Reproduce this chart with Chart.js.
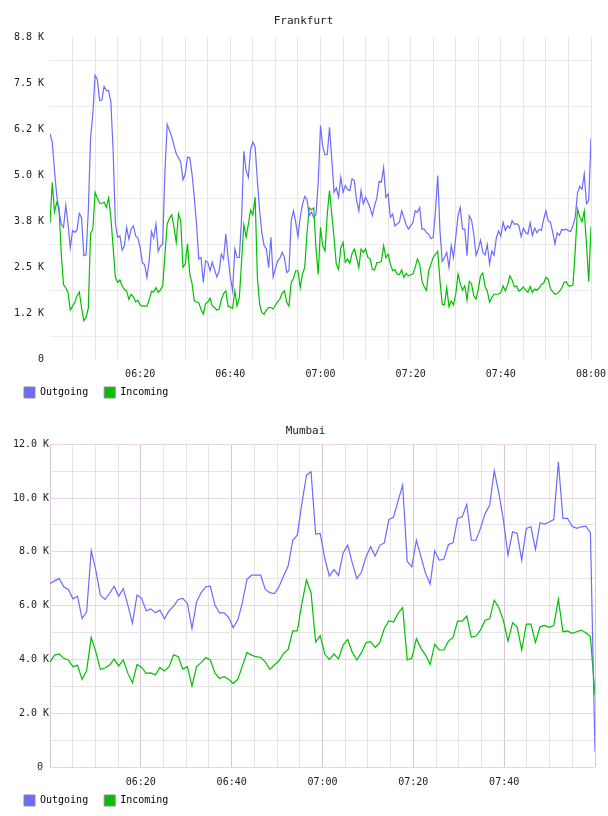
<!DOCTYPE html>
<html>
<head>
<meta charset="utf-8">
<script src="https://cdn.jsdelivr.net/npm/chart.js@4.4.1/dist/chart.umd.min.js"></script>
<style>
  body { margin: 0; background: #fff; }
  canvas { display: block; }
</style>
</head>
<body>
<canvas id="frankfurtChart" width="608" height="408"></canvas>
<canvas id="mumbaiChart" width="608" height="408"></canvas>
<script>
// values in K, evenly spaced from 06:00 to 08:00
const frankfurtOutgoing = [
    6.12, 5.90, 5.12, 4.44, 4.03, 3.67, 3.58, 4.18, 3.67, 3.03,
    3.49, 3.44, 3.51, 3.96, 3.84, 2.81, 2.83, 4.03, 6.01, 6.67,
    7.71, 7.60, 7.03, 7.04, 7.41, 7.30, 7.30, 6.99, 5.67, 3.67,
    3.31, 3.35, 2.96, 3.08, 3.58, 3.26, 3.53, 3.62, 3.35, 3.28,
    3.03, 2.62, 2.56, 2.22, 2.67, 3.47, 3.29, 3.67, 2.93, 3.07,
    3.13, 5.12, 6.38, 6.21, 6.05, 5.81, 5.58, 5.47, 5.35, 4.87,
    5.03, 5.49, 5.47, 5.03, 4.40, 3.67, 2.72, 2.76, 2.08, 2.67,
    2.63, 2.40, 2.63, 2.43, 2.23, 2.38, 2.85, 2.72, 3.40, 2.76,
    2.23, 1.85, 2.99, 2.76, 2.76, 3.85, 5.65, 5.12, 4.94, 5.71,
    5.90, 5.76, 4.85, 4.03, 3.42, 3.08, 2.99, 2.49, 3.31, 2.23,
    2.46, 2.67, 2.74, 2.90, 2.76, 2.35, 2.40, 3.76, 4.03, 3.72,
    3.33, 3.85, 4.20, 4.42, 4.33, 3.90, 3.99, 3.85, 3.92, 4.81,
    6.35, 5.78, 5.55, 5.56, 6.30, 5.44, 4.53, 4.65, 4.40, 4.94,
    4.53, 4.72, 4.61, 4.58, 4.90, 4.85, 4.31, 4.03, 4.58, 4.22,
    4.40, 4.26, 4.12, 3.90, 4.17, 4.38, 4.83, 4.81, 5.20, 4.40,
    4.49, 3.85, 3.94, 3.62, 3.67, 3.72, 4.03, 3.85, 3.65, 3.53,
    3.62, 3.71, 4.03, 3.99, 4.12, 3.53, 3.53, 3.44, 3.39, 3.27,
    3.31, 4.03, 4.99, 3.49, 2.65, 2.76, 2.90, 2.49, 3.08, 2.76,
    3.31, 3.90, 4.12, 3.53, 3.53, 2.81, 3.89, 3.78, 3.40, 2.82,
    2.99, 3.23, 2.90, 2.83, 3.11, 2.58, 2.94, 2.82, 3.29, 3.48,
    3.34, 3.72, 3.50, 3.62, 3.56, 3.76, 3.66, 3.68, 3.63, 3.33,
    3.56, 3.44, 3.40, 3.71, 3.36, 3.56, 3.43, 3.53, 3.50, 3.80,
    4.03, 3.76, 3.72, 3.45, 3.13, 3.43, 3.36, 3.52, 3.51, 3.53,
    3.49, 3.47, 3.62, 3.85, 4.51, 4.69, 4.62, 5.03, 4.22, 4.31,
    6.00
];
const frankfurtIncoming = [
    3.70, 4.80, 4.00, 4.26, 4.12, 2.85, 2.02, 1.93, 1.81, 1.33,
    1.43, 1.54, 1.72, 1.82, 1.40, 1.04, 1.13, 1.38, 3.41, 3.53,
    4.53, 4.38, 4.24, 4.23, 4.26, 4.12, 4.38, 3.85, 3.03, 2.22,
    2.08, 2.15, 1.99, 1.89, 1.85, 1.62, 1.76, 1.69, 1.55, 1.60,
    1.47, 1.44, 1.44, 1.44, 1.61, 1.84, 1.82, 1.94, 1.81, 1.88,
    1.99, 2.85, 3.67, 3.83, 3.92, 3.58, 3.17, 3.95, 3.76, 2.49,
    2.58, 3.13, 2.31, 2.06, 1.58, 1.55, 1.53, 1.35, 1.22, 1.50,
    1.55, 1.65, 1.44, 1.40, 1.33, 1.35, 1.61, 1.78, 1.85, 1.43,
    1.41, 1.38, 1.85, 1.44, 1.67, 2.67, 3.65, 3.31, 3.67, 4.05,
    3.92, 4.40, 2.22, 1.49, 1.26, 1.22, 1.33, 1.40, 1.40, 1.36,
    1.46, 1.56, 1.63, 1.79, 1.85, 1.54, 1.44, 2.08, 2.19, 2.40,
    2.40, 1.94, 2.31, 2.49, 3.40, 4.11, 4.06, 4.11, 3.00, 2.30,
    3.58, 3.08, 2.94, 3.94, 4.58, 3.94, 3.31, 2.58, 2.44, 3.02,
    3.17, 2.63, 2.72, 2.60, 2.87, 2.99, 2.76, 2.49, 2.99, 2.90,
    2.99, 2.76, 2.72, 2.44, 2.42, 2.62, 2.63, 2.65, 3.08, 2.76,
    2.85, 2.58, 2.40, 2.43, 2.31, 2.29, 2.42, 2.22, 2.33, 2.26,
    2.29, 2.31, 2.49, 2.72, 2.58, 2.13, 1.96, 1.87, 2.40, 2.58,
    2.76, 2.85, 2.93, 2.13, 1.49, 1.47, 1.94, 1.42, 1.58, 1.47,
    1.76, 2.31, 2.05, 1.87, 1.99, 1.60, 2.11, 2.04, 1.72, 1.63,
    1.90, 2.26, 2.34, 1.96, 1.85, 1.54, 1.67, 1.76, 1.76, 1.76,
    1.81, 1.99, 1.85, 2.02, 2.26, 2.15, 1.96, 1.99, 1.84, 1.89,
    1.96, 1.87, 1.81, 1.97, 1.81, 1.90, 1.87, 1.93, 2.03, 2.06,
    2.22, 2.17, 1.91, 1.83, 1.76, 1.78, 1.84, 1.93, 2.08, 2.10,
    1.99, 1.99, 2.01, 2.94, 4.08, 3.87, 3.73, 4.02, 3.13, 2.10,
    3.60
];

const mumbaiOutgoing = [
    6.82, 6.92, 7.01, 6.70, 6.60, 6.25, 6.35, 5.52, 5.77, 8.04,
    7.32, 6.39, 6.23, 6.45, 6.72, 6.35, 6.63, 6.02, 5.34, 6.39,
    6.27, 5.81, 5.88, 5.73, 5.83, 5.51, 5.81, 5.98, 6.23, 6.27,
    6.08, 5.15, 6.14, 6.48, 6.70, 6.72, 6.02, 5.73, 5.73, 5.56,
    5.18, 5.46, 6.11, 6.97, 7.13, 7.13, 7.13, 6.60, 6.48, 6.45,
    6.70, 7.10, 7.47, 8.43, 8.62, 9.80, 10.85, 10.97, 8.66, 8.68,
    7.75, 7.10, 7.34, 7.12, 7.96, 8.25, 7.59, 7.00, 7.24, 7.81,
    8.19, 7.84, 8.24, 8.33, 9.20, 9.28, 9.89, 10.48, 7.65, 7.44,
    8.43, 7.81, 7.20, 6.80, 8.04, 7.69, 7.72, 8.27, 8.33, 9.24,
    9.30, 9.77, 8.43, 8.43, 8.87, 9.42, 9.73, 11.01, 10.19, 9.18,
    7.88, 8.74, 8.68, 7.69, 8.87, 8.93, 8.09, 9.08, 9.03, 9.11,
    9.20, 11.34, 9.24, 9.24, 8.95, 8.87, 8.93, 8.95, 8.71, 0.57
];
const mumbaiIncoming = [
    3.91, 4.16, 4.20, 4.04, 3.98, 3.73, 3.78, 3.26, 3.58, 4.82,
    4.28, 3.63, 3.68, 3.79, 4.01, 3.76, 3.98, 3.48, 3.13, 3.81,
    3.70, 3.48, 3.50, 3.42, 3.70, 3.57, 3.73, 4.17, 4.10, 3.64,
    3.73, 3.01, 3.73, 3.88, 4.07, 3.98, 3.50, 3.29, 3.36, 3.26,
    3.11, 3.26, 3.75, 4.25, 4.16, 4.10, 4.07, 3.91, 3.63, 3.79,
    3.95, 4.22, 4.37, 5.06, 5.06, 6.08, 6.95, 6.48, 4.64, 4.88,
    4.19, 4.00, 4.20, 4.02, 4.53, 4.74, 4.27, 3.98, 4.25, 4.62,
    4.66, 4.45, 4.62, 5.15, 5.44, 5.39, 5.71, 5.93, 3.98, 4.04,
    4.77, 4.41, 4.16, 3.81, 4.56, 4.35, 4.35, 4.68, 4.82, 5.42,
    5.42, 5.61, 4.82, 4.87, 5.09, 5.46, 5.51, 6.20, 5.93, 5.44,
    4.68, 5.36, 5.21, 4.35, 5.31, 5.31, 4.63, 5.21, 5.26, 5.19,
    5.26, 6.23, 5.03, 5.06, 4.97, 5.03, 5.09, 4.99, 4.84, 2.67
];

// minutes after 06:00 and their labels
const timeTicks = [20, 40, 60, 80, 100, 120];
const timeLabels = ["06:20", "06:40", "07:00", "07:20", "07:40", "08:00"];

const frankfurtYLabels = ["0", "1.2 K", "2.5 K", "3.8 K", "5.0 K", "6.2 K", "7.5 K", "8.8 K"];
const mumbaiYLabels = ["0 ", "2.0 K", "4.0 K", "6.0 K", "8.0 K", "10.0 K", "12.0 K"];

const seriesNames = ["Outgoing", "Incoming"];
const seriesColors = ["#6b6bff", "#00c000"];

Chart.defaults.font.family = "'DejaVu Sans Mono', monospace";
Chart.defaults.font.size = 10;
Chart.defaults.color = "#222";

// nudge legend and title right without moving the y axis
const boxOffset = {
    id: 'boxOffset',
    afterLayout(chart, args, options) {
        chart.legend.left += options.legend || 0;
        chart.titleBlock.left += options.title || 0;
        chart.titleBlock.right += options.title || 0;
    }
};

function points(values) {
    // spread the samples over the two hours
    return values.map((v, i) => ({ x: i * 120 / (values.length - 1), y: v }));
}

function makeChart(id, title, outgoing, incoming, opts) {
    const ctx = document.getElementById(id).getContext('2d');
    return new Chart(ctx, {
        type: 'line',
        plugins: [boxOffset],
        data: {
            datasets: [outgoing, incoming].map((vals, i) => ({
                label: seriesNames[i],
                data: points(vals),
                borderColor: seriesColors[i],
                backgroundColor: seriesColors[i],
                borderWidth: 1.2,
                pointRadius: 0,
                tension: 0,
                fill: false,
            })),
        },
        options: {
            responsive: false,
            animation: false,
            events: [],
            layout: {
                padding: { left: 0, right: opts.padRight, top: 0, bottom: 0 }
            },
            plugins: {
                boxOffset: { legend: 20, title: 8 },
                title: {
                    display: true,
                    text: title,
                    color: '#222',
                    font: { size: 11, weight: 'normal' },
                    padding: opts.titlePadding,
                },
                legend: {
                    position: 'bottom',
                    align: 'start',
                    labels: {
                        boxWidth: 11,
                        boxHeight: 11,
                        padding: 4,
                        color: '#222',
                        font: { size: 10 },
                        // trailing spaces widen the gap between the two entries
                        generateLabels: (chart) => chart.data.datasets.map((ds, i) => ({
                            text: ds.label + '  ',
                            fillStyle: ds.borderColor,
                            strokeStyle: '#8c8c8c',
                            lineWidth: 1,
                            hidden: false,
                            datasetIndex: i,
                        })),
                    },
                },
                tooltip: { enabled: false },
            },
            scales: {
                x: {
                    type: 'linear',
                    min: 0,
                    max: 120,
                    border: { display: false },
                    grid: {
                        drawTicks: false,
                        color: opts.xGrid,
                    },
                    ticks: {
                        stepSize: 5,
                        autoSkip: false,
                        maxRotation: 0,
                        padding: 9,
                        callback: (v) => {
                            const i = timeTicks.indexOf(v);
                            if (i < 0 || (opts.hideLast && v === 120)) return '';
                            return timeLabels[i];
                        },
                    },
                    afterFit: (scale) => {
                        scale.paddingLeft = 0;
                        scale.paddingRight = 0;
                        scale.height = 24;
                    },
                },
                y: {
                    min: 0,
                    max: opts.yMax,
                    border: { display: false },
                    grid: {
                        drawTicks: false,
                        color: opts.yGrid,
                    },
                    ticks: {
                        stepSize: opts.yStep,
                        autoSkip: false,
                        padding: opts.yPad,
                        callback: (v, i) => (i % 2 === 0 ? opts.yLabels[i / 2] : ''),
                    },
                    afterFit: (scale) => { scale.width = 50; },
                },
            },
        },
    });
}

makeChart('frankfurtChart', 'Frankfurt', frankfurtOutgoing, frankfurtIncoming, {
    padRight: 17,
    titlePadding: { top: 15, bottom: 9 },
    yMax: 8.75,
    yStep: 0.625,
    yPad: 6,
    yLabels: frankfurtYLabels,
    hideLast: false,
    xGrid: (c) => (c.tick && c.tick.value === 0 ? 'rgba(0,0,0,0)' : '#e6e6e6'),
    yGrid: (c) => (c.index % 2 === 1 ? '#ebebeb' : 'rgba(0,0,0,0)'),
});

makeChart('mumbaiChart', 'Mumbai', mumbaiOutgoing, mumbaiIncoming, {
    padRight: 13,
    titlePadding: { top: 17, bottom: 6 },
    yMax: 12,
    yStep: 1,
    yPad: 1,
    yLabels: mumbaiYLabels,
    hideLast: true,
    xGrid: (c) => (c.tick && c.tick.value % 20 === 0 ? '#dcc3dc' : '#e4e4e4'),
    yGrid: (c) => (c.index % 2 === 0 ? '#ebd3eb' : '#e4e4e4'),
});
</script>
</body>
</html>
